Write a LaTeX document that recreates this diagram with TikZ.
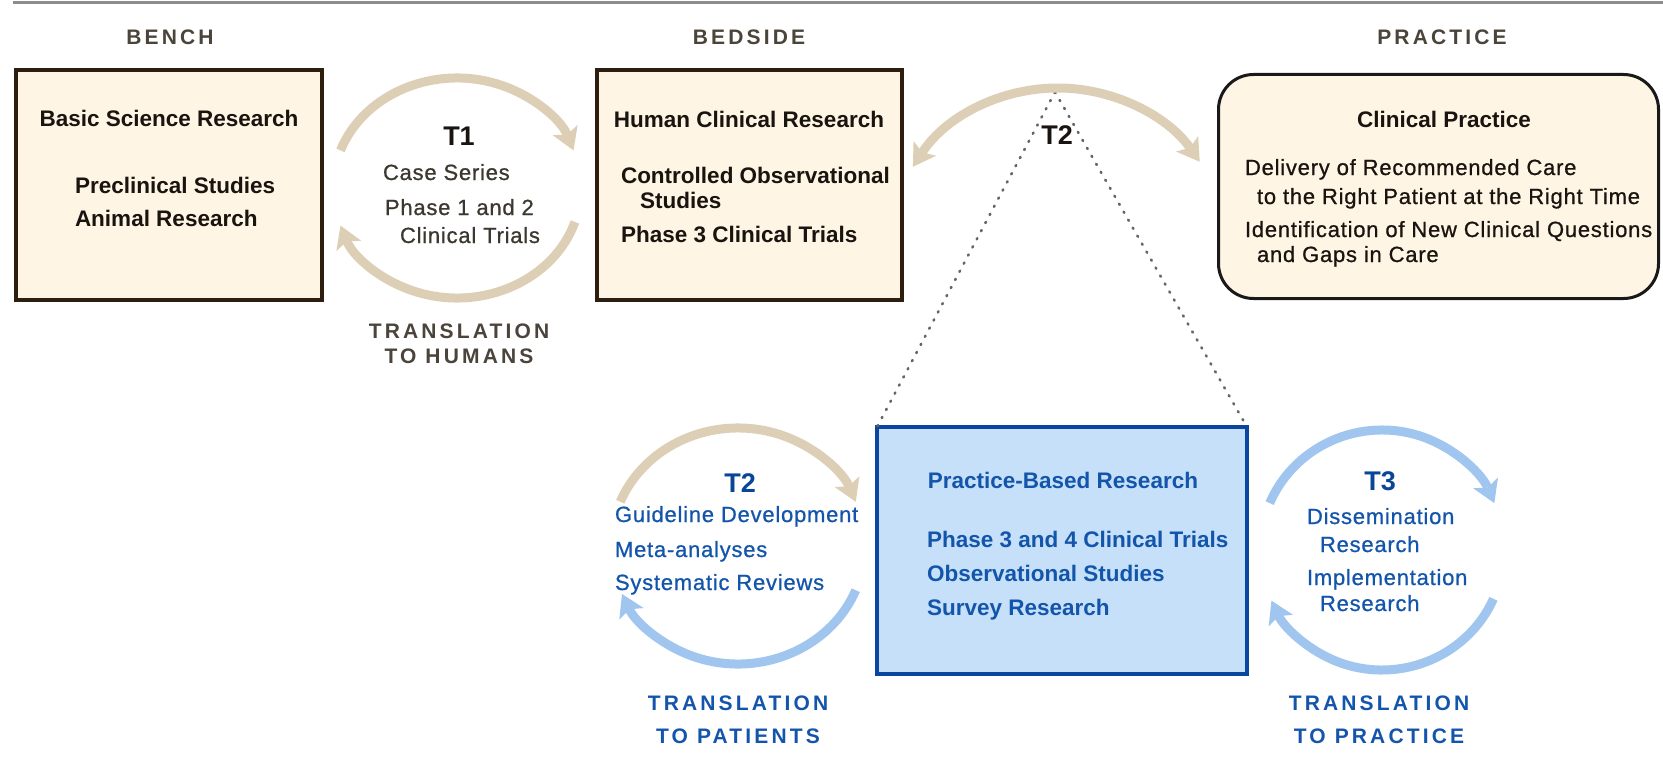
\documentclass[tikz,border=0pt]{standalone}
\usepackage{fontspec}
\setmainfont{Liberation Sans}
\newfontfamily\spacedfont[LetterSpace=15]{Liberation Sans}
\newfontfamily\widefont[LetterSpace=3.5,FakeBold=0.8]{Liberation Sans}
\usetikzlibrary{arrows.meta}
\definecolor{tanc}{RGB}{221,207,182}
\definecolor{bluec}{RGB}{160,198,240}
\definecolor{creamc}{RGB}{254,245,228}
\definecolor{brownc}{RGB}{45,30,15}
\definecolor{blackc}{RGB}{25,25,25}
\definecolor{pbrfill}{RGB}{197,224,248}
\definecolor{pbrline}{RGB}{10,70,160}
\definecolor{bluetext}{RGB}{20,85,172}
\definecolor{bluelab}{RGB}{10,70,150}
\definecolor{darktext}{RGB}{25,20,15}
\definecolor{graytext}{RGB}{60,56,48}
\definecolor{hdrc}{RGB}{75,68,58}
\definecolor{rulec}{RGB}{140,140,140}
\definecolor{dotc}{RGB}{100,100,100}
\begin{document}
\begin{tikzpicture}[x=1pt,y=-1pt,
  lbl/.style={inner sep=0pt, outer sep=0pt},
  hdr/.style={lbl, anchor=base, font=\spacedfont\bfseries\fontsize{21}{24}\selectfont},
  bx/.style={lbl, anchor=base west, text=darktext, font=\bfseries\fontsize{22.5}{26}\selectfont},
  bxc/.style={lbl, anchor=base, text=darktext, font=\bfseries\fontsize{22.5}{26}\selectfont},
  rg/.style={lbl, anchor=base west, font=\widefont\fontsize{22}{26}\selectfont},
  tlab/.style={lbl, anchor=base, font=\bfseries\fontsize{27}{30}\selectfont},
  creambox/.style={draw=brownc, fill=creamc, line width=4pt, anchor=north west, inner sep=0pt, outer sep=0pt, minimum height=230pt},
  arcline/.style={line width=9pt, -{Stealth[length=22pt,width=27pt,inset=5pt,line width=0pt]}},
  dblarc/.style={line width=9pt, {Stealth[length=22pt,width=27pt,inset=5pt,line width=0pt]}-{Stealth[length=22pt,width=27pt,inset=5pt,line width=0pt]}},
  dotline/.style={draw=dotc, line width=2.6pt, dash pattern=on 1.2pt off 8pt, line cap=round},
]
\fill[white] (0,0) rectangle (1663,768);
\useasboundingbox (0,0) rectangle (1663,768);

% top rule
\coordinate (ruleL) at (13,3);
\coordinate (ruleR) at (1663,3);
\draw[rulec, line width=3pt] (ruleL) -- (ruleR);

% headers
\node[hdr, text=hdrc] (hbench) at (170,45) {BENCH};
\node[hdr, text=hdrc] (hbedside) at (749,45) {BEDSIDE};
\node[hdr, text=hdrc] (hpractice) at (1442,45) {PRACTICE};

% Box 1
\node[creambox, minimum width=306pt] (bench) at (16,70) {};
\node[bxc] (bsr) at (169,126) {Basic Science Research};
\node[bx] (pcs) at (75,193) {Preclinical Studies};
\node[bx] (anr) at (75,226) {Animal Research};

% T1 cycle
\coordinate (tonec) at (457,188);
\draw[arcline, tanc] ([shift={(-160:124 and 110)}]tonec) arc[start angle=-160, end angle=-20, x radius=124, y radius=110];
\draw[arcline, tanc] ([shift={(18:124 and 110)}]tonec) arc[start angle=18, end angle=160, x radius=124, y radius=110];
\node[tlab, text=darktext] (tone) at (459,145) {T1};
\node[rg, text=graytext] (tonecase) at (383,180) {Case Series};
\node[rg, text=graytext] (tonephase) at (385,215) {Phase 1 and 2};
\node[rg, text=graytext] (tonetrials) at (400,243) {Clinical Trials};
\node[hdr, text=hdrc] (thum1) at (459,338) {TRANSLATION};
\node[hdr, text=hdrc] (thum2) at (459,363) {TO HUMANS};

% Box 2
\node[creambox, minimum width=305pt] (bedside) at (597,70) {};
\node[bxc] (hcr) at (749,127) {Human Clinical Research};
\node[bx] (cos1) at (621,183) {Controlled Observational};
\node[bx] (cos2) at (640,208) {Studies};
\node[bx] (p3ct) at (621,242) {Phase 3 Clinical Trials};

% Box 4 (Clinical Practice)
\node[draw=blackc, fill=creamc, line width=3pt, rounded corners=35pt, anchor=north west, inner sep=0pt, outer sep=0pt, minimum width=440pt, minimum height=224pt] (cp) at (1218.5,74.5) {};
\node[bxc] (cptitle) at (1444,127) {Clinical Practice};
\node[rg, text=darktext] (cp1) at (1245,175) {Delivery of Recommended Care};
\node[rg, text=darktext] (cp2) at (1257,204) {to the Right Patient at the Right Time};
\node[rg, text=darktext] (cp3) at (1245,237) {Identification of New Clinical Questions};
\node[rg, text=darktext] (cp4) at (1257,262) {and Gaps in Care};

% Box 3 (Practice-Based Research)
\node[draw=pbrline, fill=pbrfill, line width=4pt, anchor=north west, inner sep=0pt, outer sep=0pt, minimum width=370pt, minimum height=247pt] (pbr) at (877,427) {};
\node[bxc, text=bluetext] (pbrtitle) at (1063,488) {Practice-Based Research};
\node[bx, text=bluetext] (pbr1) at (927,547) {Phase 3 and 4 Clinical Trials};
\node[bx, text=bluetext] (pbr2) at (927,581) {Observational Studies};
\node[bx, text=bluetext] (pbr3) at (927,615) {Survey Research};

% T2 top arc and dotted funnel
\coordinate (apex) at (1055,92);
\draw[dotline] (apex) -- (pbr.north west);
\draw[dotline] (apex) -- (pbr.north east);
\coordinate (ttwoc) at (1058,261);
\draw[dblarc, tanc] ([shift={(-147:173)}]ttwoc) arc[start angle=-147, end angle=-35, radius=173];
\node[tlab, text=darktext] (ttwo) at (1057,144) {T2};

% T2 lower cycle
\coordinate (tbc) at (738,546);
\draw[arcline, tanc] ([shift={(-158:127 and 118)}]tbc) arc[start angle=-158, end angle=-22, x radius=127, y radius=118];
\draw[arcline, bluec] ([shift={(22:127 and 118)}]tbc) arc[start angle=22, end angle=156, x radius=127, y radius=118];
\node[tlab, text=bluelab] (ttwob) at (740,492) {T2};
\node[rg, text=bluetext] (gd) at (615,522) {Guideline Development};
\node[rg, text=bluetext] (ma) at (615,557) {Meta-analyses};
\node[rg, text=bluetext] (sr) at (615,590) {Systematic Reviews};
\node[hdr, text=bluetext] (tpat1) at (738,710) {TRANSLATION};
\node[hdr, text=bluetext] (tpat2) at (738,743) {TO PATIENTS};

% T3 cycle
\coordinate (tthc) at (1382,550);
\draw[arcline, bluec] ([shift={(-157:122 and 120)}]tthc) arc[start angle=-157, end angle=-23, x radius=122, y radius=120];
\draw[arcline, bluec] ([shift={(24:122 and 120)}]tthc) arc[start angle=24, end angle=155, x radius=122, y radius=120];
\node[tlab, text=bluelab] (tthree) at (1380,490) {T3};
\node[rg, text=bluetext] (dis1) at (1307,524) {Dissemination};
\node[rg, text=bluetext] (dis2) at (1320,552) {Research};
\node[rg, text=bluetext] (imp1) at (1307,585) {Implementation};
\node[rg, text=bluetext] (imp2) at (1320,611) {Research};
\node[hdr, text=bluetext] (tpra1) at (1379,710) {TRANSLATION};
\node[hdr, text=bluetext] (tpra2) at (1379,743) {TO PRACTICE};
\end{tikzpicture}
\end{document}
